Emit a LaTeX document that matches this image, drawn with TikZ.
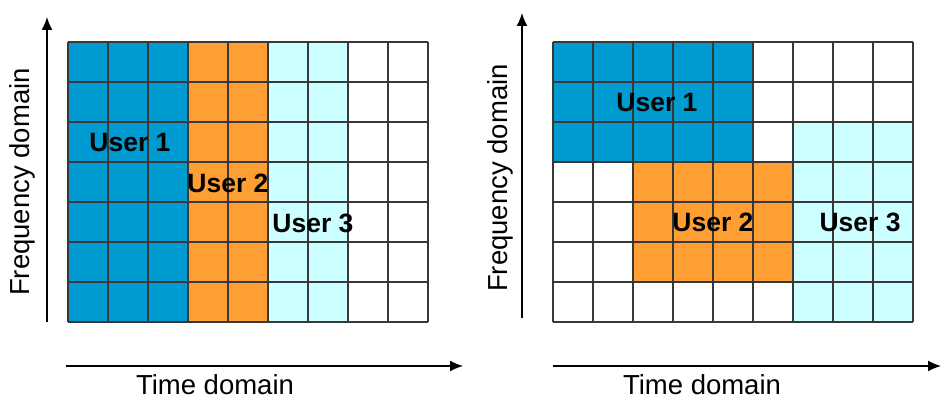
\documentclass[tikz,border=0pt]{standalone}
\usepackage{fontspec}
\setmainfont{Liberation Sans}
\usepackage{tikz}
\usetikzlibrary{arrows.meta}
\definecolor{userblue}{RGB}{0,155,208}
\definecolor{userorange}{RGB}{255,158,51}
\definecolor{usercyan}{RGB}{204,255,255}
\definecolor{gridgray}{rgb}{0.22,0.22,0.22}
\tikzset{
  user/.style={font=\fontsize{26.5}{26.5}\selectfont\bfseries},
  axislabel/.style={font=\fontsize{27.5}{27.5}\selectfont, inner sep=0pt},
  axis/.style={line width=1.5pt, -{Latex[length=13pt,width=11pt]}}
}

\begin{document}
\begin{tikzpicture}[x=40pt,y=40pt]
  \useasboundingbox (-1.7,-1.975) rectangle (21.825,8.05);
  % left: users split in time
  \fill[userblue] (0,0) rectangle (3,7);
  \fill[userorange] (3,0) rectangle (5,7);
  \fill[usercyan] (5,0) rectangle (7,7);
  \foreach \i in {0,...,9}{
    \draw[gridgray, line width=1.3pt] (\i,0) -- (\i,7);
  }
  \foreach \j in {0,...,7}{
    \draw[gridgray, line width=1.3pt] (0,\j) -- (9,\j);
  }
  \node[user] (luser1) at (1.55,4.475) {User 1};
  \node[user] (luser2) at (4.0,3.475) {User 2};
  \node[user] (luser3) at (6.125,2.475) {User 3};
  \coordinate (lfreq0) at (-0.525,0);
  \coordinate (lfreq1) at (-0.525,7.625);
  \coordinate (ltime0) at (-0.05,-1.1);
  \coordinate (ltime1) at (9.875,-1.1);
  \draw[axis] (lfreq0) -- (lfreq1);
  \draw[axis] (ltime0) -- (ltime1);
  \node[axislabel, rotate=90] (lfreq) at (-1.15,3.5) {Frequency domain};
  \node[axislabel] (ltime) at (3.675,-1.57) {Time domain};

  % right: users split in time and frequency
  \begin{scope}[xshift=485pt]
    \fill[userblue] (0,4) rectangle (5,7);
    \fill[userorange] (2,1) rectangle (6,4);
    \fill[usercyan] (6,0) rectangle (9,5);
    \foreach \i in {0,...,9}{
      \draw[gridgray, line width=1.3pt] (\i,0) -- (\i,7);
    }
    \foreach \j in {0,...,7}{
      \draw[gridgray, line width=1.3pt] (0,\j) -- (9,\j);
    }
    \node[user] (ruser1) at (2.6,5.475) {User 1};
    \node[user] (ruser2) at (4.0,2.5) {User 2};
    \node[user] (ruser3) at (7.675,2.5) {User 3};
    \coordinate (rfreq0) at (-0.775,0.1);
    \coordinate (rfreq1) at (-0.775,7.725);
    \coordinate (rtime0) at (0,-1.1);
    \coordinate (rtime1) at (9.7,-1.1);
    \draw[axis] (rfreq0) -- (rfreq1);
    \draw[axis] (rtime0) -- (rtime1);
    \node[axislabel, rotate=90] (rfreq) at (-1.325,3.6) {Frequency domain};
    \node[axislabel] (rtime) at (3.725,-1.57) {Time domain};
  \end{scope}
\end{tikzpicture}
\end{document}
